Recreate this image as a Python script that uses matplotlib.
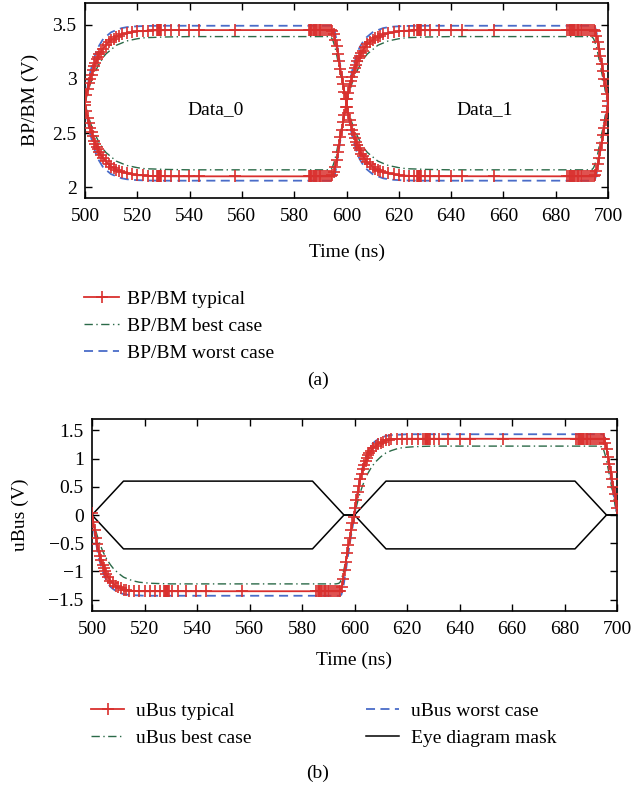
import numpy as np
import matplotlib
matplotlib.use("Agg")
import matplotlib.pyplot as plt
from matplotlib.ticker import FixedLocator, FuncFormatter
from matplotlib.lines import Line2D

plt.rcParams['font.family'] = ['Liberation Serif', 'DejaVu Serif']
plt.rcParams['mathtext.fontset'] = 'stix'

# ---------------- data ----------------
# time steps of the typical simulation (ns)
t_typ_bit0 = [500.0, 500.5, 501.0, 501.5, 502.0, 502.5, 503.0, 503.5, 504.0, 504.5,
              505.0, 505.5, 506.0, 507.0, 508.0, 509.0, 510.0, 511.0, 512.0, 513.0,
              514.0, 516.0, 518.0, 520.0, 522.0, 524.0, 526.0, 527.5, 527.8, 528.0,
              528.2, 528.4, 528.6, 528.8, 529.2, 530.5, 532.8, 535.9, 539.7, 543.6,
              557.2, 585.5, 586.0, 586.3, 586.6, 587.0, 587.4, 587.8, 588.3, 588.8,
              589.3, 589.8, 590.4, 591.0, 591.7, 592.4, 593.2, 594.0, 594.6, 595.2,
              595.7, 596.2, 596.7, 597.2, 597.7, 598.2, 598.7, 599.2, 599.7]
t_typ_bit1 = [600.2, 600.7, 601.2, 601.7, 602.2, 602.7, 603.2, 603.7, 604.2, 604.7,
              605.2, 605.7, 606.2, 607.0, 608.0, 609.0, 610.0, 611.0, 612.0, 613.0,
              614.0, 616.0, 618.0, 620.0, 622.0, 624.0, 626.0, 627.0, 627.2, 627.4,
              627.6, 627.8, 628.0, 628.2, 628.6, 630.2, 632.0, 635.5, 640.0, 644.0,
              656.4, 684.5, 685.0, 685.4, 685.8, 686.2, 686.6, 687.0, 687.5, 688.0,
              688.5, 689.0, 689.6, 690.2, 690.8, 691.5, 692.2, 693.0, 693.8, 694.5,
              695.1, 695.6, 696.1, 696.6, 697.1, 697.6, 698.1, 698.6, 699.1, 699.6,
              700.0]

# BP/BM typical (V)
bp_typ = ([2.79, 2.85, 2.91, 2.96, 3.00, 3.04, 3.08, 3.12, 3.15, 3.18,
           3.20, 3.23, 3.25, 3.28, 3.31, 3.34, 3.36, 3.37, 3.39, 3.40,
           3.41, 3.42, 3.43, 3.44, 3.44, 3.445, 3.447, 3.448, 3.448, 3.448,
           3.448, 3.448, 3.448, 3.448, 3.449, 3.449, 3.45, 3.45, 3.45, 3.45]
          + [3.45] * 18 +
          [3.44, 3.41, 3.36, 3.30, 3.23, 3.16, 3.09, 3.02, 2.95, 2.88, 2.81]
          + [2.74, 2.68, 2.62, 2.57, 2.53, 2.49, 2.45, 2.42, 2.39, 2.36, 2.34, 2.31, 2.29,
             2.26, 2.23, 2.21, 2.19, 2.17, 2.16, 2.15, 2.14, 2.13, 2.12, 2.11, 2.107, 2.104, 2.102]
          + [2.101] * 8 + [2.10] * 25 +
          [2.11, 2.15, 2.21, 2.27, 2.34, 2.41, 2.48, 2.55, 2.62, 2.69, 2.75])
bm_typ = ([2.76, 2.70, 2.64, 2.59, 2.55, 2.51, 2.47, 2.43, 2.40, 2.37,
           2.35, 2.32, 2.30, 2.27, 2.24, 2.21, 2.19, 2.18, 2.16, 2.15,
           2.14, 2.13, 2.12, 2.11, 2.11, 2.105, 2.103, 2.102, 2.102, 2.102,
           2.102, 2.102, 2.102, 2.102, 2.101, 2.101, 2.10, 2.10, 2.10, 2.10]
          + [2.10] * 18 +
          [2.11, 2.14, 2.19, 2.25, 2.32, 2.39, 2.46, 2.53, 2.60, 2.67, 2.74]
          + [2.81, 2.87, 2.93, 2.98, 3.02, 3.06, 3.10, 3.13, 3.16, 3.19, 3.21, 3.24, 3.26,
             3.29, 3.32, 3.34, 3.36, 3.38, 3.39, 3.40, 3.41, 3.42, 3.43, 3.44, 3.443, 3.446, 3.448]
          + [3.449] * 8 + [3.45] * 25 +
          [3.44, 3.40, 3.34, 3.28, 3.21, 3.14, 3.07, 3.00, 2.93, 2.86, 2.80])

# time grid of best / worst case simulations (ns)
t_case = [500, 501, 502, 503, 504, 505, 506, 507, 508, 510, 512, 514, 516, 518, 520,
          523, 526, 530, 540, 560, 580, 593, 594, 594.5, 595, 595.5, 596, 596.5, 597,
          597.5, 598, 598.5, 599, 599.5, 600,
          601, 602, 603, 604, 605, 606, 607, 608, 610, 612, 614, 616, 618, 620,
          623, 626, 630, 640, 660, 680, 693, 694, 694.5, 695, 695.5, 696, 696.5, 697,
          697.5, 698, 698.5, 699, 699.5, 700]

bp_best = [2.78, 2.87, 2.95, 3.02, 3.07, 3.12, 3.16, 3.20, 3.23, 3.27, 3.31, 3.33, 3.35, 3.36, 3.37,
           3.38, 3.382, 3.386, 3.39, 3.39, 3.39, 3.39, 3.385, 3.37, 3.34, 3.30, 3.25, 3.19, 3.13,
           3.07, 3.01, 2.95, 2.89, 2.84, 2.78,
           2.68, 2.60, 2.53, 2.48, 2.43, 2.39, 2.35, 2.32, 2.28, 2.24, 2.22, 2.20, 2.19, 2.18,
           2.17, 2.168, 2.164, 2.16, 2.16, 2.16, 2.16, 2.165, 2.18, 2.21, 2.25, 2.30, 2.36, 2.42,
           2.48, 2.54, 2.60, 2.66, 2.71, 2.77]
bm_best = [2.77, 2.68, 2.60, 2.53, 2.48, 2.43, 2.39, 2.35, 2.32, 2.28, 2.24, 2.22, 2.20, 2.19, 2.18,
           2.17, 2.168, 2.164, 2.16, 2.16, 2.16, 2.16, 2.165, 2.18, 2.21, 2.25, 2.30, 2.36, 2.42,
           2.48, 2.54, 2.60, 2.66, 2.71, 2.77,
           2.87, 2.95, 3.02, 3.07, 3.12, 3.16, 3.20, 3.23, 3.27, 3.31, 3.33, 3.35, 3.36, 3.37,
           3.38, 3.382, 3.386, 3.39, 3.39, 3.39, 3.39, 3.385, 3.37, 3.34, 3.30, 3.25, 3.19, 3.13,
           3.07, 3.01, 2.95, 2.89, 2.84, 2.78]
bp_worst = [2.78, 2.93, 3.06, 3.15, 3.23, 3.29, 3.33, 3.37, 3.39, 3.43, 3.45, 3.468, 3.477, 3.482, 3.485,
            3.488, 3.489, 3.49, 3.49, 3.49, 3.49, 3.49, 3.49, 3.49, 3.48, 3.44, 3.38, 3.30, 3.22,
            3.14, 3.06, 2.98, 2.90, 2.83, 2.76,
            2.62, 2.49, 2.40, 2.32, 2.26, 2.22, 2.18, 2.16, 2.12, 2.10, 2.082, 2.073, 2.068, 2.065,
            2.062, 2.061, 2.06, 2.06, 2.06, 2.06, 2.06, 2.06, 2.06, 2.07, 2.11, 2.17, 2.25, 2.33,
            2.41, 2.49, 2.57, 2.65, 2.72, 2.79]
bm_worst = [2.77, 2.62, 2.49, 2.40, 2.32, 2.26, 2.22, 2.18, 2.16, 2.12, 2.10, 2.082, 2.073, 2.068, 2.065,
            2.062, 2.061, 2.06, 2.06, 2.06, 2.06, 2.06, 2.06, 2.06, 2.07, 2.11, 2.17, 2.25, 2.33,
            2.41, 2.49, 2.57, 2.65, 2.72, 2.79,
            2.93, 3.06, 3.15, 3.23, 3.29, 3.33, 3.37, 3.39, 3.43, 3.45, 3.468, 3.477, 3.482, 3.485,
            3.488, 3.489, 3.49, 3.49, 3.49, 3.49, 3.49, 3.49, 3.49, 3.48, 3.44, 3.38, 3.30, 3.22,
            3.14, 3.06, 2.98, 2.90, 2.83, 2.76]

# uBus (V)
ubus_typ = ([0.03, -0.13, -0.27, -0.40, -0.52, -0.63, -0.72, -0.80, -0.88, -0.94, -1.00, -1.05, -1.09,
             -1.16, -1.21, -1.25, -1.28, -1.30, -1.32, -1.33, -1.34, -1.345]
            + [-1.35] * 36 +
            [-1.34, -1.27, -1.13, -0.98, -0.83, -0.68, -0.54, -0.40, -0.27, -0.15, -0.03]
            + [0.12, 0.27, 0.40, 0.52, 0.63, 0.73, 0.81, 0.89, 0.95, 1.01, 1.06, 1.10, 1.13,
               1.18, 1.22, 1.26, 1.28, 1.30, 1.32, 1.33, 1.34, 1.345]
            + [1.35] * 38 +
            [1.34, 1.28, 1.16, 1.03, 0.90, 0.77, 0.63, 0.50, 0.37, 0.24, 0.13])
ubus_best = [0.0, -0.20, -0.37, -0.51, -0.63, -0.73, -0.81, -0.88, -0.94, -1.03, -1.10, -1.14, -1.17, -1.19, -1.20,
             -1.21, -1.215, -1.22, -1.22, -1.22, -1.22, -1.22, -1.21, -1.19, -1.14, -1.06, -0.96, -0.85, -0.73,
             -0.61, -0.49, -0.37, -0.25, -0.13, 0.0,
             0.20, 0.37, 0.51, 0.63, 0.73, 0.81, 0.88, 0.94, 1.03, 1.10, 1.14, 1.17, 1.19, 1.20,
             1.21, 1.215, 1.22, 1.22, 1.22, 1.22, 1.22, 1.21, 1.19, 1.14, 1.06, 0.96, 0.85, 0.73,
             0.61, 0.49, 0.37, 0.25, 0.13, 0.0]
ubus_worst = [0.0, -0.34, -0.62, -0.83, -0.99, -1.11, -1.20, -1.27, -1.31, -1.37, -1.40, -1.415, -1.42, -1.425, -1.43,
              -1.43, -1.43, -1.43, -1.43, -1.43, -1.43, -1.43, -1.43, -1.43, -1.41, -1.33, -1.20, -1.05, -0.89,
              -0.73, -0.57, -0.42, -0.28, -0.15, -0.02,
              0.34, 0.62, 0.83, 0.99, 1.11, 1.20, 1.27, 1.31, 1.37, 1.40, 1.415, 1.42, 1.425, 1.43,
              1.43, 1.43, 1.43, 1.43, 1.43, 1.43, 1.43, 1.43, 1.43, 1.41, 1.33, 1.20, 1.05, 0.89,
              0.73, 0.57, 0.42, 0.28, 0.15, 0.02]

# eye diagram mask
mask_t = [500, 512, 584, 596, 600, 612, 684, 696, 700]
mask_hi = [0, 0.6, 0.6, 0, 0, 0.6, 0.6, 0, 0]
mask_lo = [0, -0.6, -0.6, 0, 0, -0.6, -0.6, 0, 0]

x_ticks = [500, 520, 540, 560, 580, 600, 620, 640, 660, 680, 700]
y1_ticks = [2, 2.5, 3, 3.5]
y2_ticks = [-1.5, -1, -0.5, 0, 0.5, 1, 1.5]

# ---------------- style ----------------
RED = '#d9302e'
GREEN = '#2b6a48'
BLUE = '#4a6cc8'
FS = 14

t_typ = t_typ_bit0 + t_typ_bit1

fig = plt.figure(figsize=(6.35, 7.97), dpi=100)
W, H = 635.0, 797.0

def fmt(v, p):
    return ('%g' % v).replace('-', '\u2212')

def style_axes(ax, yticks):
    ax.xaxis.set_major_locator(FixedLocator(x_ticks))
    ax.yaxis.set_major_locator(FixedLocator(yticks))
    ax.xaxis.set_major_formatter(FuncFormatter(fmt))
    ax.yaxis.set_major_formatter(FuncFormatter(fmt))
    ax.tick_params(direction='in', length=5, width=1, top=True, right=True,
                   labelsize=FS, pad=7, colors='black')
    ax.tick_params(axis='y', pad=6)
    for s in ax.spines.values():
        s.set_linewidth(1.2)
    ax.set_xlim(500, 700)

typ_kw = dict(color=RED, lw=1.3, marker='+', ms=8.5, mew=1.2, zorder=4)
best_kw = dict(color=GREEN, lw=1.0, ls=(0, (6, 2.5, 1, 2.5)), zorder=3)
worst_kw = dict(color=BLUE, lw=1.3, ls=(0, (5, 3)), zorder=2)

# ---- (a) ----
ax1 = fig.add_axes([85 / W, 1 - 198 / H, 523 / W, 195 / H])
ax1.plot(t_case, bp_worst, **worst_kw)
ax1.plot(t_case, bm_worst, **worst_kw)
ax1.plot(t_case, bp_best, **best_kw)
ax1.plot(t_case, bm_best, **best_kw)
ax1.plot(t_typ, bp_typ, **typ_kw)
ax1.plot(t_typ, bm_typ, **typ_kw)
ax1.set_ylim(1.9, 3.7)
style_axes(ax1, y1_ticks)
ax1.text(550, 2.72, 'Data_0', fontsize=FS, ha='center', va='center')
ax1.text(653, 2.72, 'Data_1', fontsize=FS, ha='center', va='center')

fig.text(30 / W, 1 - 100 / H, 'BP/BM (V)', rotation=90, fontsize=FS, ha='center', va='center')
fig.text(347 / W, 1 - 252 / H, 'Time (ns)', fontsize=FS, ha='center', va='center')

h_typ = Line2D([], [], **typ_kw)
h_best = Line2D([], [], **best_kw)
h_worst = Line2D([], [], **worst_kw)
leg1 = fig.legend([h_typ, h_best, h_worst],
                  ['BP/BM typical', 'BP/BM best case', 'BP/BM worst case'],
                  loc='upper left', bbox_to_anchor=(84 / W, 1 - 290 / H),
                  frameon=False, fontsize=FS, handlelength=1.8, handletextpad=0.4,
                  labelspacing=0.5, borderpad=0, borderaxespad=0, numpoints=1)
fig.text(0.5, 1 - 380 / H, '(a)', fontsize=FS, ha='center', va='center')

# ---- (b) ----
ax2 = fig.add_axes([92 / W, 1 - 611 / H, 525 / W, 192 / H])
ax2.plot(mask_t, mask_hi, color='black', lw=1.1, zorder=1)
ax2.plot(mask_t, mask_lo, color='black', lw=1.1, zorder=1)
ax2.plot(t_case, ubus_worst, **worst_kw)
ax2.plot(t_case, ubus_best, **best_kw)
ax2.plot(t_typ, ubus_typ, **typ_kw)
ax2.set_ylim(-1.7, 1.7)
style_axes(ax2, y2_ticks)

fig.text(20 / W, 1 - 515 / H, 'uBus (V)', rotation=90, fontsize=FS, ha='center', va='center')
fig.text(354 / W, 1 - 660 / H, 'Time (ns)', fontsize=FS, ha='center', va='center')

h_mask = Line2D([], [], color='black', lw=1.1)
leg2 = fig.legend([h_typ, h_best], ['uBus typical', 'uBus best case'],
                  loc='upper left', bbox_to_anchor=(91 / W, 1 - 702 / H),
                  frameon=False, fontsize=FS, handlelength=1.7, handletextpad=0.6,
                  labelspacing=0.5, borderpad=0, borderaxespad=0, numpoints=1)
leg3 = fig.legend([h_worst, h_mask], ['uBus worst case', 'Eye diagram mask'],
                  loc='upper left', bbox_to_anchor=(366 / W, 1 - 702 / H),
                  frameon=False, fontsize=FS, handlelength=1.7, handletextpad=0.6,
                  labelspacing=0.5, borderpad=0, borderaxespad=0, numpoints=1)
fig.text(0.5, 1 - 773 / H, '(b)', fontsize=FS, ha='center', va='center')

fig.savefig('out.png', dpi=100)
